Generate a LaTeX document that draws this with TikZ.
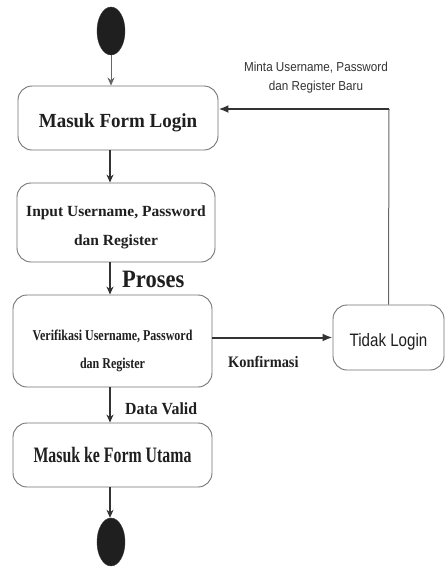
\documentclass[tikz,border=0pt]{standalone}
\usepackage{graphicx}
\usepackage{fontspec}
\setmainfont{Liberation Serif}
\setsansfont{Liberation Sans}
\usetikzlibrary{arrows.meta,shapes.geometric}
\newcommand{\cnd}[2]{\scalebox{#1}[1]{#2}}
\newcommand{\tgap}[1]{\rule{0pt}{#1}}
\tikzset{
  actbox/.style={draw=black!55, line width=0.9pt, rounded corners=14pt, fill=white, align=center, inner sep=0pt, text=black!88},
  startend/.style={ellipse, fill=black!88, draw=black!80, minimum width=28pt, minimum height=48pt, inner sep=0pt},
  flow/.style={draw=black!80, line width=1.1pt, -{Stealth[length=8pt,width=7pt,inset=2.5pt]}},
  thickflow/.style={draw=black!80, line width=2pt, -{Latex[length=10pt,width=8pt]}},
  lbl/.style={inner sep=0pt, text=black!88},
}
\begin{document}
\begin{tikzpicture}[x=1pt,y=-1pt]
\useasboundingbox (0,0) rectangle (446,568);
\node[startend] (s) at (111,31) {};
\node[actbox, minimum width=200pt, minimum height=64pt, font={\fontsize{20}{22}\selectfont\bfseries}] (b1) at (118,118) {\tgap{24pt}\cnd{0.95}{Masuk Form Login}};
\node[actbox, minimum width=198pt, minimum height=79pt, font={\fontsize{15.5}{29}\selectfont\bfseries}] (b2) at (116,222.5) {\tgap{21pt}\cnd{1}{Input Username, Password}\\\cnd{1}{dan Register}};
\node[actbox, minimum width=199pt, minimum height=92pt, font={\fontsize{15}{28}\selectfont\bfseries}] (b3) at (112.5,341) {\tgap{30pt}\cnd{0.8}{Verifikasi Username, Password}\\\cnd{0.8}{dan Register}};
\node[actbox, minimum width=199pt, minimum height=64pt, font={\fontsize{22}{24}\selectfont\bfseries}] (b4) at (112.5,455) {\cnd{0.72}{Masuk ke Form Utama}};
\node[actbox, minimum width=111pt, minimum height=65pt, font={\sffamily\fontsize{18}{20}\selectfont}] (t) at (388.5,337.5) {\tgap{21pt}\cnd{0.84}{Tidak Login}};
\node[startend] (e) at (111,542) {};

\coordinate (x) at (110,0);
\draw[flow, line width=0.8pt, draw=black!60] (s.south) -- (s.south |- b1.north);
\draw[flow] (b1.south -| x) -- (b2.north -| x);
\draw[flow] (b2.south -| x) -- (b3.north -| x);
\draw[flow] (b3.south -| x) -- (b4.north -| x);
\draw[flow] (b4.south -| x) -- (e.north -| x);
\draw[thickflow] (b3.east |- t.west) -- (t.west);
\coordinate (c1) at (389,109);
\draw[draw=black!60, line width=1pt] (t.north) -- (c1);
\draw[thickflow] (c1) -- (b1.east |- c1);

\node[lbl, anchor=west, font={\fontsize{25}{26}\selectfont\bfseries}] (lp) at (122,279.5) {\cnd{0.9}{Proses}};
\node[lbl, anchor=west, font={\fontsize{16}{18}\selectfont\bfseries}] (lk) at (228,362) {\cnd{0.9}{Konfirmasi}};
\node[lbl, anchor=west, font={\fontsize{17}{18}\selectfont\bfseries}] (ld) at (125,409) {\cnd{0.93}{Data Valid}};
\node[align=center, inner sep=0pt, text=black!80, font={\sffamily\fontsize{13}{19}\selectfont}] (lm) at (316,78) {\cnd{0.9}{Minta Username, Password}\\\cnd{0.9}{dan Register Baru}};
\end{tikzpicture}
\end{document}
